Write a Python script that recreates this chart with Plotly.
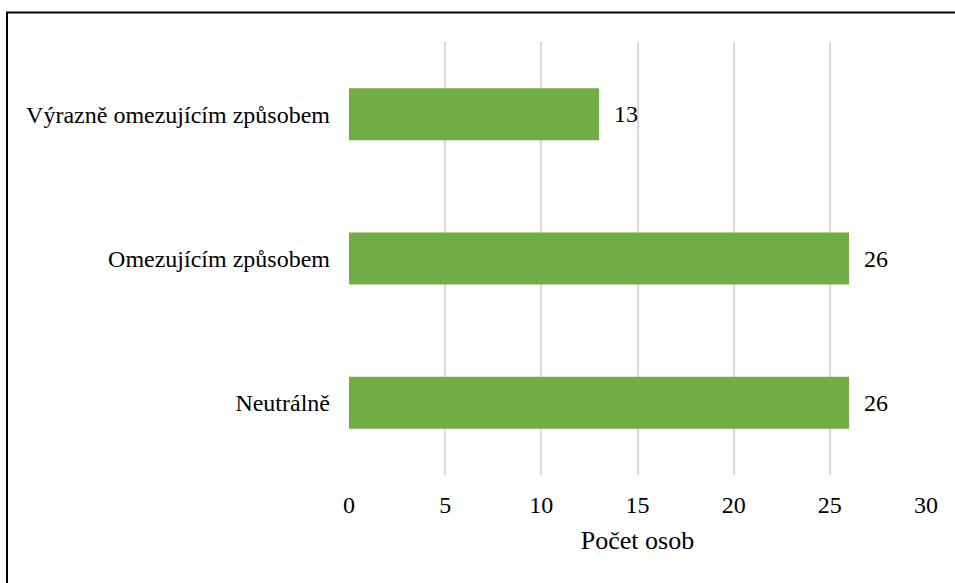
import plotly.graph_objects as go

# Données
categories = ["Neutrálně", "Omezujícím způsobem", "Výrazně omezujícím způsobem"]
pocty = [26, 26, 13]
x_ticks = [0, 5, 10, 15, 20, 25, 30]

W, H = 955, 583
FONT = "Times New Roman, Liberation Serif, DejaVu Serif, serif"

fig = go.Figure()

fig.add_trace(go.Bar(
    y=categories,
    x=pocty,
    orientation="h",
    marker=dict(color="#70AD47", line=dict(width=0)),
    text=pocty,
    texttemplate="  %{x}",
    textposition="outside",
    textfont=dict(family=FONT, size=24, color="#000000"),
    cliponaxis=False,
    width=0.36,
))

# cadre noir (haut + gauche seulement)
fig.add_shape(
    type="path",
    xref="paper", yref="paper",
    path=f"M {7/W} 0 L {7/W} {(H-12.5)/H} L 1 {(H-12.5)/H}",
    line=dict(color="black", width=2),
)

fig.update_layout(
    width=W, height=H,
    margin=dict(l=0, r=0, t=0, b=0),
    plot_bgcolor="white",
    paper_bgcolor="white",
    font=dict(family=FONT, size=24, color="#000000"),
    showlegend=False,
    xaxis=dict(
        domain=[349/W, 926/W],
        range=[0, 30],
        tickvals=x_ticks,
        tickfont=dict(family=FONT, size=24),
        showgrid=True,
        gridcolor="#d9d9d9",
        gridwidth=2,
        zeroline=False,
        showline=False,
        ticks="",
        ticklabelstandoff=13,
        automargin=False,
        title=dict(text="Počet osob", standoff=13, font=dict(family=FONT, size=26)),
    ),
    yaxis=dict(
        domain=[(H-475)/H, (H-42)/H],
        range=[-0.5, 2.5],
        categoryorder="array",
        categoryarray=categories,
        tickfont=dict(family=FONT, size=24),
        showgrid=False,
        zeroline=False,
        showline=False,
        ticks="",
        ticklabelstandoff=18,
        automargin=False,
    ),
)

# pas de marge autour du graphique dans la page
fig.write_html("out.html", config={"displayModeBar": False},
               post_script="document.body.style.margin='0';")
